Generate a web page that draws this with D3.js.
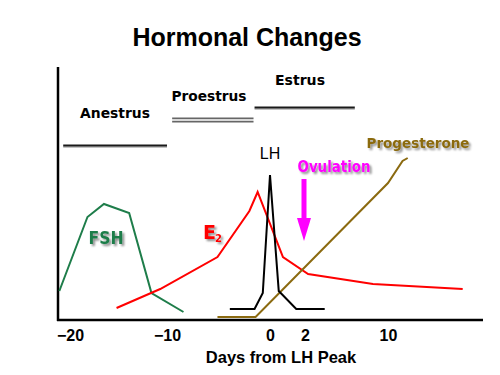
<!DOCTYPE html>
<html><head><meta charset="utf-8">
<script src="https://cdn.jsdelivr.net/npm/d3@7"></script>
<style>
body{margin:0;background:#fff;}
svg{display:block;}
</style></head>
<body><svg id="c" width="500" height="375"></svg>
<script>
// ---- data ----
const tickDays = [-20, -10, 0, 2, 10];
const fshDays = [-21.1, -18.2, -16.5, -13.9, -11.6, -8.4];
const fshLevel = [14.5, 51.5, 58, 53.5, 13.5, 4];
const e2Days = [-15.2, -10.7, -5.1, -2.0, -1.2, 0.74, 2.3, 8.55, 17.2];
const e2Level = [6, 15.5, 31.5, 54.5, 64, 31.5, 23, 18, 15.5];
const lhDays = [-3.9, -1.5, -0.7, 0, 0.5, 1.5, 3.9];
const lhLevel = [5.5, 5.5, 13.5, 72.5, 14.5, 5.5, 5.5];
const progDays = [-5.1, -1.4, 10, 11.4, 11.9];
const progLevel = [1.5, 1.5, 68.5, 79.5, 81];
const phaseNames = ["Anestrus", "Proestrus", "Estrus"];
const phaseStart = [-20.7, -9.5, -1.5];
const phaseEnd = [-10, -1.6, 6.8];
const phaseLevel = [87, 100, 106];

const svg = d3.select("#c");
// piecewise day scale matching the original's uneven spacing
const x = d3.scaleLinear().domain(tickDays).range([70, 167, 270, 305, 388]);
const y = d3.scaleLinear().domain([0, 100]).range([320, 120]);
const sans = "Liberation Sans, Arial, sans-serif";
const comic = "DejaVu Sans, sans-serif";

// title
svg.append("text").attr("x", 247).attr("y", 46).attr("text-anchor", "middle")
  .attr("font-family", sans).attr("font-weight", "bold")
  .attr("font-size", 25).text("Hormonal Changes");

// axes lines
svg.append("line").attr("x1", 58).attr("x2", 58).attr("y1", 67).attr("y2", 321)
  .attr("stroke", "#000").attr("stroke-width", 2.5);
svg.append("line").attr("x1", 57).attr("x2", 483).attr("y1", 320).attr("y2", 320)
  .attr("stroke", "#000").attr("stroke-width", 2.5);

// tick labels via axis
const ax = svg.append("g").attr("transform", "translate(0,324)")
  .call(d3.axisBottom(x).tickValues(tickDays).tickSize(0).tickFormat(d3.format("d")));
ax.select(".domain").remove();
ax.selectAll("text").attr("font-family", sans)
  .attr("font-weight", "bold").attr("font-size", 16).attr("fill", "#000").attr("dy", "0.9em");

svg.append("text").attr("x", 281).attr("y", 363).attr("text-anchor", "middle")
  .attr("font-family", sans).attr("font-weight", "bold")
  .attr("font-size", 16.5).text("Days from LH Peak");

// phase bars
phaseNames.forEach((n, i) => {
  const yy = y(phaseLevel[i]);
  if (i === 1) {
    [-1.6, 1.6].forEach(o => svg.append("line").attr("x1", x(phaseStart[i])).attr("x2", x(phaseEnd[i]))
      .attr("y1", yy + o).attr("y2", yy + o).attr("stroke", "#666").attr("stroke-width", 1.6));
  } else {
    svg.append("line").attr("x1", x(phaseStart[i])).attr("x2", x(phaseEnd[i]))
      .attr("y1", yy + 1).attr("y2", yy + 1).attr("stroke", "#888").attr("stroke-width", 1.2);
    svg.append("line").attr("x1", x(phaseStart[i])).attr("x2", x(phaseEnd[i]))
      .attr("y1", yy - 0.5).attr("y2", yy - 0.5).attr("stroke", "#1a1a1a").attr("stroke-width", 2.2);
  }
});
const phaseLabelPos = [[115, 118], [209, 101], [300, 85]];
const phaseLabelW = [70, 75, 50];
phaseNames.forEach((n, i) => {
  svg.append("text").attr("x", phaseLabelPos[i][0]).attr("y", phaseLabelPos[i][1])
    .attr("text-anchor", "middle").attr("font-family", comic).attr("font-weight", "bold")
    .attr("font-size", 14).attr("fill", "#000")
    .attr("textLength", phaseLabelW[i]).attr("lengthAdjust", "spacingAndGlyphs").text(n);
});

// lines
const line = d3.line().x(d => x(d[0])).y(d => y(d[1]));
function draw(days, lev, col) {
  svg.append("path").datum(days.map((d, i) => [d, lev[i]])).attr("d", line)
    .attr("fill", "none").attr("stroke", col).attr("stroke-width", 2).attr("stroke-linejoin", "miter");
}
draw(fshDays, fshLevel, "#1e7d4a");
draw(e2Days, e2Level, "#ff0000");
draw(progDays, progLevel, "#8b6a10");
draw(lhDays, lhLevel, "#000");

// shadow filter
const defs = svg.append("defs");
const f = defs.append("filter").attr("id", "sh").attr("x", "-20%").attr("y", "-30%").attr("width", "140%").attr("height", "160%");
f.append("feGaussianBlur").attr("in", "SourceAlpha").attr("stdDeviation", 1.2).attr("result", "b");
f.append("feOffset").attr("in", "b").attr("dx", 1.5).attr("dy", 1.5).attr("result", "o");
f.append("feComponentTransfer").attr("in", "o").attr("result", "o2")
  .append("feFuncA").attr("type", "linear").attr("slope", 0.45);
const m = f.append("feMerge");
m.append("feMergeNode").attr("in", "o2");
m.append("feMergeNode").attr("in", "SourceGraphic");

// labels
svg.append("text").attr("x", 106).attr("y", 244).attr("text-anchor", "middle")
  .attr("font-family", comic).attr("font-weight", "bold").attr("font-size", 18)
  .attr("textLength", 35).attr("lengthAdjust", "spacingAndGlyphs")
  .attr("fill", "#1e7d4a").attr("filter", "url(#sh)").text("FSH");
const e2t = svg.append("text").attr("x", 203).attr("y", 239)
  .attr("font-family", comic).attr("font-weight", "bold").attr("font-size", 19)
  .attr("fill", "#ff0000").attr("filter", "url(#sh)");
e2t.append("tspan").text("E");
e2t.append("tspan").attr("font-size", 10).attr("dy", 3).attr("dx", -1).text("2");
svg.append("text").attr("x", 270).attr("y", 159).attr("text-anchor", "middle")
  .attr("font-family", sans).attr("font-size", 16).attr("fill", "#000").text("LH");
svg.append("text").attr("x", 334).attr("y", 172).attr("text-anchor", "middle")
  .attr("font-family", comic).attr("font-weight", "bold").attr("font-size", 15)
  .attr("textLength", 73).attr("lengthAdjust", "spacingAndGlyphs")
  .attr("fill", "#ff00ff").attr("filter", "url(#sh)").text("Ovulation");
svg.append("text").attr("x", 418).attr("y", 148).attr("text-anchor", "middle")
  .attr("font-family", comic).attr("font-weight", "bold").attr("font-size", 14)
  .attr("textLength", 103).attr("lengthAdjust", "spacingAndGlyphs")
  .attr("fill", "#8b6a10").attr("filter", "url(#sh)").text("Progesterone");

// ovulation arrow
const ax0 = 304;
svg.append("line").attr("x1", ax0).attr("x2", ax0).attr("y1", 179).attr("y2", 222)
  .attr("stroke", "#ff00ff").attr("stroke-width", 5);
svg.append("path").attr("d", `M${ax0 - 7},218 L${ax0 + 7},218 L${ax0},241 Z`).attr("fill", "#ff00ff");
</script>
</body></html>
